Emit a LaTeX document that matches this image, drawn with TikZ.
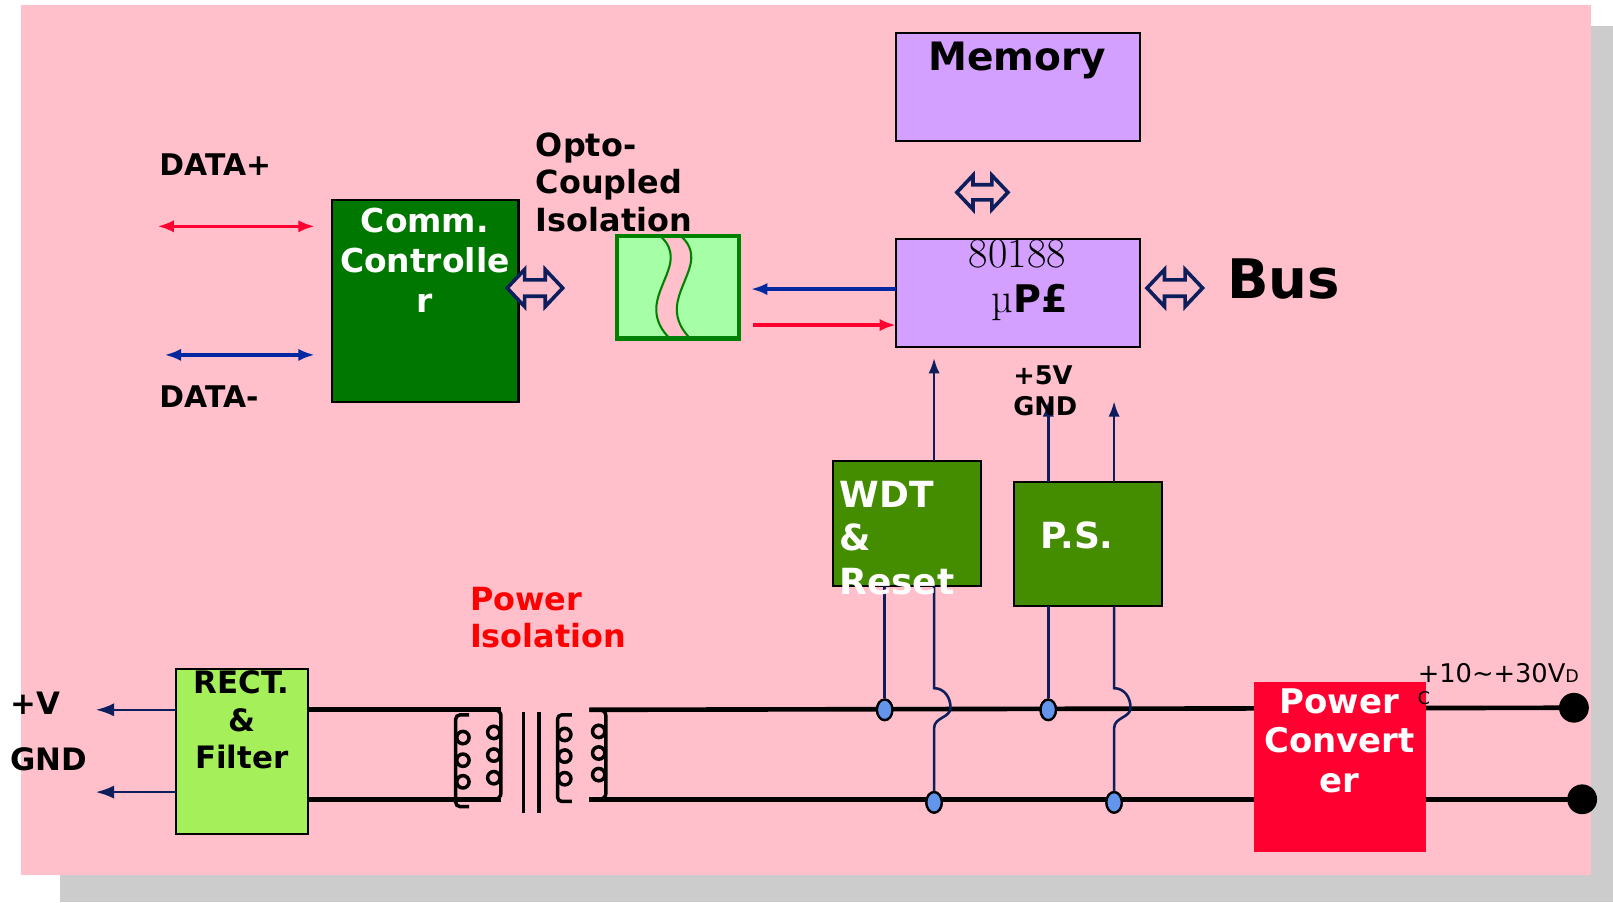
\documentclass[tikz,border=0pt]{standalone}
\usepackage{fontspec}
\newfontfamily\dvs{DejaVu Sans}
\usetikzlibrary{arrows.meta,shapes.geometric,calc}
\definecolor{bgpink}{HTML}{FFC0CB}
\definecolor{shadowgray}{HTML}{CCCCCC}
\definecolor{lav}{HTML}{D4A0FF}
\definecolor{commgreen}{HTML}{007800}
\definecolor{optofill}{HTML}{A6FFA6}
\definecolor{optoline}{HTML}{008000}
\definecolor{wdtgreen}{HTML}{448C00}
\definecolor{rectgreen}{HTML}{A5F05A}
\definecolor{pcred}{HTML}{FF0030}
\definecolor{navy}{HTML}{0C1F5C}
\definecolor{dblue}{HTML}{0028A0}
\definecolor{arrred}{HTML}{FF0030}
\definecolor{juncblue}{HTML}{6495ED}
\newcommand\fsz[2]{\fontsize{#1pt}{#2pt}\selectfont}
\tikzset{
  box/.style={draw=black, line width=2pt, inner sep=0pt, outer sep=0pt},
  bt/.style 2 args={font=\dvs\bfseries\fsz{#1}{#2}, inner sep=0pt, outer sep=0pt},
  conn/.style={draw=navy, line width=2.5pt},
  upar/.style={conn, -{Latex[length=15pt,width=11pt]}},
  pline/.style={draw=black, line width=4.5pt},
  jn/.style={ellipse, draw=black, line width=2.2pt, fill=juncblue, minimum width=15pt, minimum height=20pt, inner sep=0pt},
  bigdot/.style={circle, fill=black, minimum size=29pt, inner sep=0pt},
  coilline/.style={draw=black, line width=3.4pt},
  dbl/.pic={\draw[navy, line width=3.5pt, fill=bgpink, line join=miter, miter limit=10]
    (-27,0) -- (-10,-18) -- (-10,-8) -- (10,-8) -- (10,-18) -- (27,0) -- (10,18) -- (10,8) -- (-10,8) -- (-10,18) -- cycle;}
}
\begin{document}
\begin{tikzpicture}[x=1pt,y=-1pt]
\useasboundingbox (0,0) rectangle (1568,877);
\fill[white] (0,0) rectangle (1568,877);
\fill[shadowgray] (58,25) rectangle (1568,877);
\fill[bgpink] (20,5) rectangle (1547,851);

% boxes
\node[box, fill=lav, minimum width=237pt, minimum height=105pt] (mem) at (989.5,84.5) {};
\node[box, fill=lav, minimum width=237pt, minimum height=105pt] (up) at (989.5,284.5) {};
\node[box, fill=commgreen, minimum width=181pt, minimum height=197pt] (comm) at (413.5,292.5) {};
\node[draw=optoline, line width=4pt, fill=optofill, inner sep=0pt, outer sep=0pt, minimum width=118pt, minimum height=100pt] (opto) at (659,279) {};
\node[box, fill=wdtgreen, minimum width=144pt, minimum height=122pt] (wdt) at (882,509) {};
\node[box, fill=wdtgreen, minimum width=144pt, minimum height=120pt] (ps) at (1058,529) {};
\node[box, fill=rectgreen, minimum width=128pt, minimum height=161pt] (rect) at (235,730.5) {};

% opto strip
\fill[bgpink] (641,229) .. controls (653,238) and (653,250) .. (651,258) .. controls (648,270) and (639,285) .. (638,298) .. controls (637,312) and (644,322) .. (651,329)
  -- (671,329) .. controls (664,322) and (657,312) .. (658,298) .. controls (659,285) and (668,270) .. (671,258) .. controls (673,250) and (673,238) .. (661,229) -- cycle;
\draw[optoline, line width=2pt] (641,229) .. controls (653,238) and (653,250) .. (651,258) .. controls (648,270) and (639,285) .. (638,298) .. controls (637,312) and (644,322) .. (651,329);
\draw[optoline, line width=2pt] (661,229) .. controls (673,238) and (673,250) .. (671,258) .. controls (668,270) and (659,285) .. (658,298) .. controls (657,312) and (664,322) .. (671,329);
\draw[optoline, line width=4pt] (opto.north west) rectangle (opto.south east);

% hollow double arrows
\pic[scale=0.92] at (955,187) {dbl};
\pic at (1142,280) {dbl};
\pic at (520,280) {dbl};

% data arrows
\coordinate (dpL) at (153,220); \coordinate (dpR) at (306,220);
\coordinate (dmL) at (160,345); \coordinate (dmR) at (306,345);
\draw[arrred, line width=3.5pt, {Latex[length=16pt,width=12pt]}-{Latex[length=16pt,width=12pt]}] (dpL) -- (dpR);
\draw[dblue, line width=3.5pt, {Latex[length=16pt,width=12pt]}-{Latex[length=16pt,width=12pt]}] (dmL) -- (dmR);

% opto <-> uP arrows
\draw[dblue, line width=3.5pt, -{Latex[length=16pt,width=12pt]}] ([yshift=3.5pt]up.west) -- ([xshift=12pt,yshift=-2pt]opto.east);
\draw[arrred, line width=3.5pt, -{Latex[length=16pt,width=12pt]}] ([xshift=14pt,yshift=-37pt]opto.east) -- ([yshift=-31.5pt]up.west);

% upward arrows
\coordinate (ps1) at (1019,390); \coordinate (ps2) at (1083,390);
\draw[upar] ([xshift=26pt]wdt.north) -- ([xshift=-81.5pt,yshift=-11pt]up.south);
\draw[upar] ([xshift=-39pt]ps.north) -- (ps1);
\draw[upar] ([xshift=25pt]ps.north) -- (ps2);

% left output arrows
\coordinate (vout) at (93,690); \coordinate (gout) at (93,770);
\draw[conn, -{Latex[length=18pt,width=13pt]}] ([yshift=40.5pt]rect.west) -- (vout);
\draw[conn, -{Latex[length=18pt,width=13pt]}] ([yshift=-39.5pt]rect.west) -- (gout);

% power lines
\coordinate (tA) at (487,690); \coordinate (tB) at (487,777);
\coordinate (tC) at (573,690); \coordinate (tD) at (573,777);
\node[bigdot] (d1) at (1530,688) {};
\node[bigdot] (d2) at (1538,777) {};
\draw[pline] ([yshift=40.5pt]rect.east) -- (tA);
\draw[pline] ([yshift=-46.5pt]rect.east) -- (tB);
\draw[pline] (tC) -- (d1.center);
\draw[pline] (tD) -- (d2.center);

% transformer
\draw[coilline, rounded corners=4pt] (456,695) -- (443,695) -- (443,784) -- (456,784);
\foreach \yy in {717,739,760} \draw[coilline] (450,\yy) circle (6);
\draw[coilline, rounded corners=6pt] (476,690) -- (487,690) -- (487,777) -- (476,777);
\foreach \yy in {712,734,756} \draw[coilline] (480,\yy) circle (6);
\draw[coilline] (509,692) -- (509,790);
\draw[coilline] (524,692) -- (524,790);
\draw[coilline, rounded corners=4pt] (556,695) -- (542,695) -- (542,779) -- (556,779);
\foreach \yy in {714,735,757} \draw[coilline] (549,\yy) circle (6);
\draw[coilline, rounded corners=6pt] (573,690) -- (589,690) -- (589,777) -- (573,777);
\foreach \yy in {711,732,753} \draw[coilline] (582,\yy) circle (6);

% junctions
\node[jn] (j1) at (860,690) {};
\node[jn] (j2) at (908,780) {};
\node[jn] (j3) at (1019,690) {};
\node[jn] (j4) at (1083,780) {};
\draw[conn] ([xshift=-22pt]wdt.south) -- (j1.north);
\draw[conn] ([xshift=26pt]wdt.south) -- (908,669) .. controls (918,669) and (924,678) .. (924,688) .. controls (924,698) and (908,697) .. (908,708) -- (j2.north);
\draw[conn] ([xshift=-39pt]ps.south) -- (j3.north);
\draw[conn] ([xshift=25pt]ps.south) -- (1083,669) .. controls (1093,669) and (1099,678) .. (1099,688) .. controls (1099,698) and (1083,697) .. (1083,708) -- (j4.north);
\node[jn] at (j1) {};
\node[jn] at (j2) {};
\node[jn] at (j3) {};
\node[jn] at (j4) {};

% power converter
\node[fill=pcred, inner sep=0pt, outer sep=0pt, minimum width=167pt, minimum height=165pt] (pc) at (1302.5,745.5) {};

% texts
\node[bt={38}{46}, anchor=base] (memt) at (989,69) {Memory};
\node[inner sep=0pt, anchor=base, font=\rmfamily\fsz{41}{46}] (chipt) at (989,260) {80188};
\node[inner sep=0pt, anchor=base] (upt) at (1001,304) {\rmfamily\fsz{41}{46}µ\dvs\bfseries\fsz{37}{44}P£};
\node[bt={53}{60}, anchor=base] (bust) at (1248,290) {Bus};
\node[bt={32}{39}, text=white, align=center] (commt) at (413,253) {Comm.\\Controlle\\r};
\node[bt={31}{36.5}, anchor=west, align=left] (optot) at (521,177) {Opto-\\Coupled\\Isolation};
\node[bt={31}{36}, text=red, anchor=west, align=left] (pisot) at (457,600.5) {Power\\Isolation};
\node[bt={30}{36.5}, align=center] (rectt) at (235,700) {RECT.\\\&\\Filter};
\node[bt={33}{38.5}, text=white, align=center] (pct) at (1302,720) {Power\\Convert\\er};
\node[bt={35}{42.5}, text=white, anchor=west, align=left] (wdtt) at (816,523) {WDT\\\&\\Reset};
\node[bt={35}{42}, text=white, anchor=base] (pst) at (1047,533) {P.S.};
\node[bt={25}{30}, anchor=west, align=left] (pwrt) at (985,380) {+5V\\GND};
\node[bt={29}{34}, anchor=base west] (dpt) at (155,171) {DATA+};
\node[bt={29}{34}, anchor=base west] (dmt) at (155,396) {DATA-};
\node[bt={30}{36}, anchor=base west] (vt) at (10,695) {+V};
\node[bt={30}{36}, anchor=base west] (gt) at (10,749) {GND};
\node[inner sep=0pt, anchor=base west, font=\dvs] (vint) at (1378,663) {\fsz{25}{30}+10\textasciitilde+30V\fsz{17}{20}D};
\node[inner sep=0pt, anchor=base west, font=\dvs\fsz{17}{20}] (vinc) at (1378,685) {C};
\end{tikzpicture}
\end{document}
